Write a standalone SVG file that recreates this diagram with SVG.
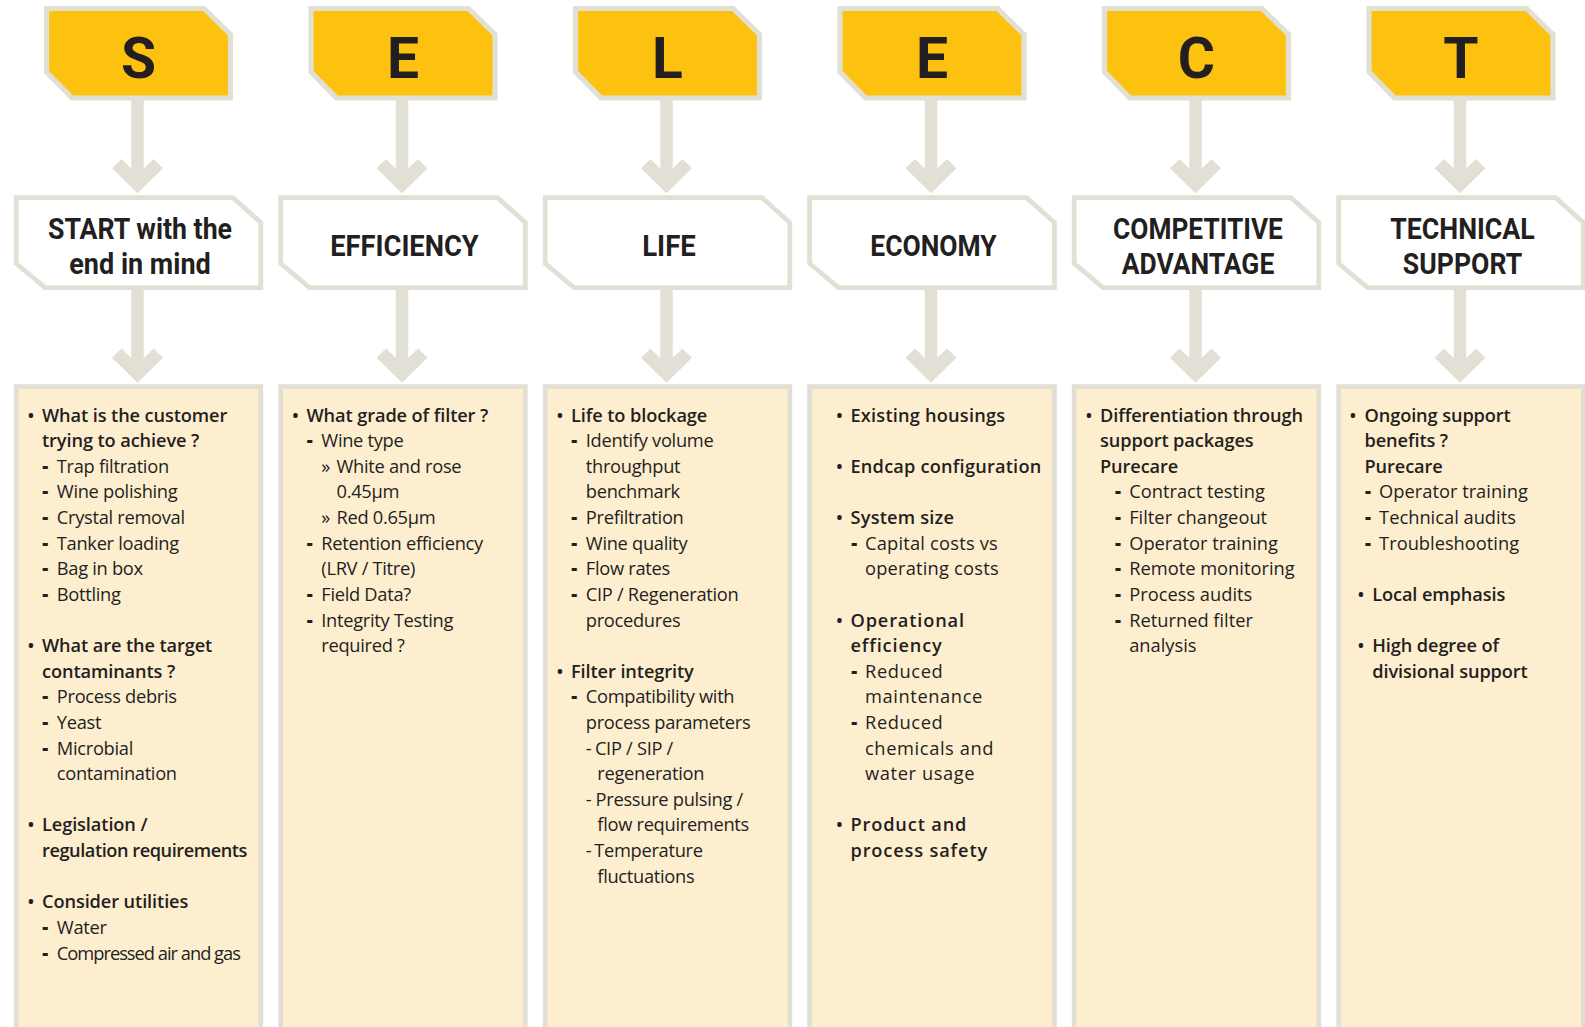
<svg xmlns="http://www.w3.org/2000/svg" width="1585" height="1027" viewBox="0 0 1585 1027">
<style>
.ybox{fill:#FDC20F;stroke:#E2DFD4;stroke-width:5.2}
.wbox{fill:#FFFFFF;stroke:#E2DFD4;stroke-width:4.8}
.panel{fill:#FEEED0;stroke:#E2DFD4;stroke-width:4.8}
.lt{font-family:Roboto,"Liberation Sans",sans-serif;font-weight:700;font-size:57px;fill:#231F20;text-anchor:middle}
.hd{font-family:Roboto,"Liberation Sans",sans-serif;font-weight:700;font-size:29px;fill:#231F20;text-anchor:middle}
text.b,text.r{font-family:"Open Sans","Noto Sans","Liberation Sans",sans-serif;fill:#231F20}
.b{font-weight:600;font-size:18.2px;letter-spacing:-0.1px}
.r{font-weight:400;font-size:18.3px}
.t{letter-spacing:-0.3px}
.tt{letter-spacing:-1px}
.bt{letter-spacing:-0.45px}
.s1{letter-spacing:0.2px}
.s2{letter-spacing:0.6px}
.b.s2{letter-spacing:0.85px}
.m{font-weight:800;font-size:18.7px;letter-spacing:0}
.conn{stroke:#E2DFD4;stroke-width:12.5;fill:none;marker-end:url(#chev)}
</style>
<defs>
<marker id="chev" markerUnits="userSpaceOnUse" orient="auto" refX="-10" refY="0" markerWidth="50" markerHeight="60" viewBox="-40 -30 50 60" overflow="visible">
<path d="M0,0 L-25,25.5 L-34.3,16 L-18.6,0 L-34.3,-16 L-25,-25.5 Z" fill="#E2DFD4"/>
</marker>
<path id="yshape" d="M46.5,8.5 H204 L230.5,34.5 V98 H72 L46.5,72 Z"/>
<path id="wshape" d="M16.2,197.6 H233 L260.8,222.5 V287.6 H45 L16.2,263.5 Z"/>
</defs>

<g id="connectors">
<line class="conn" x1="137.5" y1="100" x2="137.5" y2="183.3"/>
<line class="conn" x1="137.5" y1="289" x2="137.5" y2="372.7"/>
<line class="conn" x1="402" y1="100" x2="402" y2="183.3"/>
<line class="conn" x1="402" y1="289" x2="402" y2="372.7"/>
<line class="conn" x1="666.5" y1="100" x2="666.5" y2="183.3"/>
<line class="conn" x1="666.5" y1="289" x2="666.5" y2="372.7"/>
<line class="conn" x1="931" y1="100" x2="931" y2="183.3"/>
<line class="conn" x1="931" y1="289" x2="931" y2="372.7"/>
<line class="conn" x1="1195.5" y1="100" x2="1195.5" y2="183.3"/>
<line class="conn" x1="1195.5" y1="289" x2="1195.5" y2="372.7"/>
<line class="conn" x1="1460" y1="100" x2="1460" y2="183.3"/>
<line class="conn" x1="1460" y1="289" x2="1460" y2="372.7"/>
</g>

<!-- Column 1 -->
<g id="node-S"><use href="#yshape" class="ybox"/><text class="lt" x="138.5" y="77.5">S</text></g>
<g id="node-start"><use href="#wshape" class="wbox"/>
<text class="hd" x="140" y="239" textLength="184" lengthAdjust="spacingAndGlyphs">START with the</text>
<text class="hd" x="140" y="274" textLength="141.5" lengthAdjust="spacingAndGlyphs">end in mind</text></g>
<g id="node-start-list">
<rect class="panel" x="16.2" y="386.6" width="244.6" height="660"/>
<text class="b" y="421.5"><tspan x="27.5">•</tspan><tspan x="42">What is the customer</tspan></text>
<text class="b" x="42" y="447.1">trying to achieve ?</text>
<text class="r t" y="472.7"><tspan class="m" x="42.3">-</tspan><tspan x="56.8">Trap filtration</tspan></text>
<text class="r t" y="498.4"><tspan class="m" x="42.3">-</tspan><tspan x="56.8">Wine polishing</tspan></text>
<text class="r t" y="524"><tspan class="m" x="42.3">-</tspan><tspan x="56.8">Crystal removal</tspan></text>
<text class="r t" y="549.6"><tspan class="m" x="42.3">-</tspan><tspan x="56.8">Tanker loading</tspan></text>
<text class="r t" y="575.2"><tspan class="m" x="42.3">-</tspan><tspan x="56.8">Bag in box</tspan></text>
<text class="r t" y="600.8"><tspan class="m" x="42.3">-</tspan><tspan x="56.8">Bottling</tspan></text>
<text class="b" y="652.1"><tspan x="27.5">•</tspan><tspan x="42">What are the target</tspan></text>
<text class="b" x="42" y="677.7">contaminants ?</text>
<text class="r t" y="703.3"><tspan class="m" x="42.3">-</tspan><tspan x="56.8">Process debris</tspan></text>
<text class="r t" y="728.9"><tspan class="m" x="42.3">-</tspan><tspan x="56.8">Yeast</tspan></text>
<text class="r t" y="754.6"><tspan class="m" x="42.3">-</tspan><tspan x="56.8">Microbial</tspan></text>
<text class="r t" x="56.8" y="780.2">contamination</text>
<text class="b" y="831.4"><tspan x="27.5">•</tspan><tspan x="42">Legislation /</tspan></text>
<text class="b bt" x="42" y="857">regulation requirements</text>
<text class="b" y="908.3"><tspan x="27.5">•</tspan><tspan x="42">Consider utilities</tspan></text>
<text class="r t" y="933.9"><tspan class="m" x="42.3">-</tspan><tspan x="56.8">Water</tspan></text>
<text class="r tt" y="959.5"><tspan class="m" x="42.3">-</tspan><tspan x="56.8">Compressed air and gas</tspan></text>
</g>

<!-- Column 2 -->
<g id="node-E1" transform="translate(264.5,0)"><use href="#yshape" class="ybox"/><text class="lt" x="138.5" y="77.5">E</text></g>
<g id="node-efficiency" transform="translate(264.5,0)"><use href="#wshape" class="wbox"/>
<text class="hd" x="140" y="256" textLength="148.6" lengthAdjust="spacingAndGlyphs">EFFICIENCY</text></g>
<g id="node-efficiency-list" transform="translate(264.5,0)">
<rect class="panel" x="16.2" y="386.6" width="244.6" height="660"/>
<text class="b" y="421.5"><tspan x="27.5">•</tspan><tspan x="42">What grade of filter ?</tspan></text>
<text class="r t" y="447.1"><tspan class="m" x="42.3">-</tspan><tspan x="56.8">Wine type</tspan></text>
<text class="r t" y="472.7"><tspan x="56.8">»</tspan><tspan x="72">White and rose</tspan></text>
<text class="r t" x="72" y="498.4">0.45µm</text>
<text class="r t" y="524"><tspan x="56.8">»</tspan><tspan x="72">Red 0.65µm</tspan></text>
<text class="r t" y="549.6"><tspan class="m" x="42.3">-</tspan><tspan x="56.8">Retention efficiency</tspan></text>
<text class="r t" x="56.8" y="575.2">(LRV / Titre)</text>
<text class="r t" y="600.8"><tspan class="m" x="42.3">-</tspan><tspan x="56.8">Field Data?</tspan></text>
<text class="r t" y="626.5"><tspan class="m" x="42.3">-</tspan><tspan x="56.8">Integrity Testing</tspan></text>
<text class="r t" x="56.8" y="652.1">required ?</text>
</g>

<!-- Column 3 -->
<g id="node-L" transform="translate(529,0)"><use href="#yshape" class="ybox"/><text class="lt" x="138.5" y="77.5">L</text></g>
<g id="node-life" transform="translate(529,0)"><use href="#wshape" class="wbox"/>
<text class="hd" x="140" y="256" textLength="53.6" lengthAdjust="spacingAndGlyphs">LIFE</text></g>
<g id="node-life-list" transform="translate(529,0)">
<rect class="panel" x="16.2" y="386.6" width="244.6" height="660"/>
<text class="b" y="421.5"><tspan x="27.5">•</tspan><tspan x="42">Life to blockage</tspan></text>
<text class="r t" y="447.1"><tspan class="m" x="42.3">-</tspan><tspan x="56.8">Identify volume</tspan></text>
<text class="r t" x="56.8" y="472.7">throughput</text>
<text class="r t" x="56.8" y="498.4">benchmark</text>
<text class="r t" y="524"><tspan class="m" x="42.3">-</tspan><tspan x="56.8">Prefiltration</tspan></text>
<text class="r t" y="549.6"><tspan class="m" x="42.3">-</tspan><tspan x="56.8">Wine quality</tspan></text>
<text class="r t" y="575.2"><tspan class="m" x="42.3">-</tspan><tspan x="56.8">Flow rates</tspan></text>
<text class="r t" y="600.8"><tspan class="m" x="42.3">-</tspan><tspan x="56.8">CIP / Regeneration</tspan></text>
<text class="r t" x="56.8" y="626.5">procedures</text>
<text class="b" y="677.7"><tspan x="27.5">•</tspan><tspan x="42">Filter integrity</tspan></text>
<text class="r t" y="703.3"><tspan class="m" x="42.3">-</tspan><tspan x="56.8">Compatibility with</tspan></text>
<text class="r t" x="56.8" y="728.9">process parameters</text>
<text class="r t" y="754.6"><tspan x="56.8">-</tspan><tspan x="65.9">CIP / SIP /</tspan></text>
<text class="r t" x="68.3" y="780.2">regeneration</text>
<text class="r t" y="805.8"><tspan x="56.8">-</tspan><tspan x="66.6">Pressure pulsing /</tspan></text>
<text class="r t" x="68.3" y="831.4">flow requirements</text>
<text class="r t" y="857"><tspan x="56.8">-</tspan><tspan x="65.2">Temperature</tspan></text>
<text class="r t" x="68.3" y="882.7">fluctuations</text>
</g>

<!-- Column 4 -->
<g id="node-E2" transform="translate(793.5,0)"><use href="#yshape" class="ybox"/><text class="lt" x="138.5" y="77.5">E</text></g>
<g id="node-economy" transform="translate(793.5,0)"><use href="#wshape" class="wbox"/>
<text class="hd" x="140" y="256" textLength="126.3" lengthAdjust="spacingAndGlyphs">ECONOMY</text></g>
<g id="node-economy-list" transform="translate(793.5,0)">
<rect class="panel" x="16.2" y="386.6" width="244.6" height="660"/>
<text class="b s1" y="421.5"><tspan x="42.5">•</tspan><tspan x="57">Existing housings</tspan></text>
<text class="b s1" y="472.7"><tspan x="42.5">•</tspan><tspan x="57">Endcap configuration</tspan></text>
<text class="b s1" y="524"><tspan x="42.5">•</tspan><tspan x="57">System size</tspan></text>
<text class="r s1" y="549.6"><tspan class="m" x="57.7">-</tspan><tspan x="71.5">Capital costs vs</tspan></text>
<text class="r s1" x="71.5" y="575.2">operating costs</text>
<text class="b s2" y="626.5"><tspan x="42.5">•</tspan><tspan x="57">Operational</tspan></text>
<text class="b s2" x="57" y="652.1">efficiency</text>
<text class="r s2" y="677.7"><tspan class="m" x="57.7">-</tspan><tspan x="71.5">Reduced</tspan></text>
<text class="r s2" x="71.5" y="703.3">maintenance</text>
<text class="r s2" y="728.9"><tspan class="m" x="57.7">-</tspan><tspan x="71.5">Reduced</tspan></text>
<text class="r s2" x="71.5" y="754.6">chemicals and</text>
<text class="r s2" x="71.5" y="780.2">water usage</text>
<text class="b s2" y="831.4"><tspan x="42.5">•</tspan><tspan x="57">Product and</tspan></text>
<text class="b s2" x="57" y="857">process safety</text>
</g>

<!-- Column 5 -->
<g id="node-C" transform="translate(1058,0)"><use href="#yshape" class="ybox"/><text class="lt" x="138.5" y="77.5">C</text></g>
<g id="node-competitive" transform="translate(1058,0)"><use href="#wshape" class="wbox"/>
<text class="hd" x="140" y="239" textLength="169.8" lengthAdjust="spacingAndGlyphs">COMPETITIVE</text>
<text class="hd" x="140" y="274" textLength="152.6" lengthAdjust="spacingAndGlyphs">ADVANTAGE</text></g>
<g id="node-competitive-list" transform="translate(1058,0)">
<rect class="panel" x="16.2" y="386.6" width="244.6" height="660"/>
<text class="b" y="421.5"><tspan x="27.5">•</tspan><tspan x="42">Differentiation through</tspan></text>
<text class="b" x="42" y="447.1">support packages</text>
<text class="b" x="42" y="472.7">Purecare</text>
<text class="r" y="498.4"><tspan class="m" x="57.1">-</tspan><tspan x="71.2">Contract testing</tspan></text>
<text class="r" y="524"><tspan class="m" x="57.1">-</tspan><tspan x="71.2">Filter changeout</tspan></text>
<text class="r" y="549.6"><tspan class="m" x="57.1">-</tspan><tspan x="71.2">Operator training</tspan></text>
<text class="r" y="575.2"><tspan class="m" x="57.1">-</tspan><tspan x="71.2">Remote monitoring</tspan></text>
<text class="r" y="600.8"><tspan class="m" x="57.1">-</tspan><tspan x="71.2">Process audits</tspan></text>
<text class="r" y="626.5"><tspan class="m" x="57.1">-</tspan><tspan x="71.2">Returned filter</tspan></text>
<text class="r" x="71.2" y="652.1">analysis</text>
</g>

<!-- Column 6 -->
<g id="node-T" transform="translate(1322.5,0)"><use href="#yshape" class="ybox"/><text class="lt" x="138.5" y="77.5">T</text></g>
<g id="node-technical" transform="translate(1322.5,0)"><use href="#wshape" class="wbox"/>
<text class="hd" x="140" y="239" textLength="144.5" lengthAdjust="spacingAndGlyphs">TECHNICAL</text>
<text class="hd" x="140" y="274" textLength="119.3" lengthAdjust="spacingAndGlyphs">SUPPORT</text></g>
<g id="node-technical-list" transform="translate(1322.5,0)">
<rect class="panel" x="16.2" y="386.6" width="244.6" height="660"/>
<text class="b" y="421.5"><tspan x="27.1">•</tspan><tspan x="42">Ongoing support</tspan></text>
<text class="b" x="42" y="447.1">benefits ?</text>
<text class="b" x="42" y="472.7">Purecare</text>
<text class="r" y="498.4"><tspan class="m" x="42.5">-</tspan><tspan x="56.6">Operator training</tspan></text>
<text class="r" y="524"><tspan class="m" x="42.5">-</tspan><tspan x="56.6">Technical audits</tspan></text>
<text class="r" y="549.6"><tspan class="m" x="42.5">-</tspan><tspan x="56.6">Troubleshooting</tspan></text>
<text class="b" y="600.8"><tspan x="35.1">•</tspan><tspan x="49.7">Local emphasis</tspan></text>
<text class="b" y="652.1"><tspan x="35.1">•</tspan><tspan x="49.7">High degree of</tspan></text>
<text class="b" x="49.7" y="677.7">divisional support</text>
</g>
</svg>
